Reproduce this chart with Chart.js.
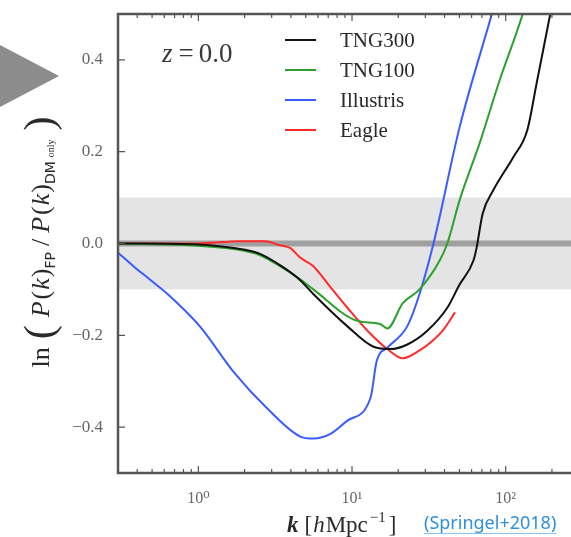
<!DOCTYPE html>
<html>
<head>
<meta charset="utf-8">
<script src="https://cdn.jsdelivr.net/npm/chart.js@4.4.1/dist/chart.umd.min.js"></script>
<style>
html, body { margin: 0; padding: 0; background: #fff; overflow: hidden; width: 571px; height: 537px; }
canvas { position: absolute; left: 0; top: 0; }
</style>
</head>
<body>
<canvas id="myChart" width="600" height="537"></canvas>
<script>
// data (k in h/Mpc, value = ln(P_FP / P_DM))
var kTng300 = [0.30, 1.0, 1.7, 2.5, 3.5, 4.6, 5.6, 9.3, 13.8, 17.8, 22.9, 30.9, 41.7, 50, 61.7, 64.6, 70.8, 83, 112, 138, 159, 195, 230];
var vTng300 = [0.0, -0.002, -0.01, -0.022, -0.05, -0.08, -0.11, -0.18, -0.225, -0.23, -0.22, -0.19, -0.14, -0.09, -0.037, -0.01, 0.065, 0.116, 0.188, 0.246, 0.349, 0.5, 0.62];

var kTng100 = [0.30, 1.0, 1.7, 2.5, 3.5, 4.6, 5.6, 10.7, 15.1, 17.0, 21.4, 27.5, 37.2, 41.7, 50.1, 67.6, 91.2, 129, 150];
var vTng100 = [0.0, -0.005, -0.012, -0.025, -0.052, -0.078, -0.10, -0.168, -0.175, -0.185, -0.13, -0.10, -0.037, 0.0, 0.094, 0.218, 0.355, 0.5, 0.58];

var kIllustris = [0.30, 0.38, 0.49, 0.63, 1.02, 1.70, 2.82, 4.57, 5.62, 7.24, 9.33, 13.2, 14.5, 17.0, 22.9, 27.5, 33.9, 50.1, 81.3, 95];
var vIllustris = [-0.02, -0.05, -0.08, -0.11, -0.18, -0.28, -0.36, -0.42, -0.425, -0.415, -0.386, -0.336, -0.255, -0.227, -0.18, -0.11, 0.0, 0.253, 0.5, 0.58];

var kEagle = [0.30, 1.0, 1.86, 2.72, 3.39, 3.98, 4.57, 5.62, 7.24, 9.33, 12.6, 17.0, 21.4, 27.5, 33.9, 38.9, 46.8];
var vEagle = [0.0, 0.0, 0.005, 0.005, -0.004, -0.01, -0.03, -0.05, -0.095, -0.14, -0.19, -0.23, -0.25, -0.233, -0.21, -0.19, -0.15];

var seriesLabels = ["TNG300", "TNG100", "Illustris", "Eagle"];
var seriesColors = ["#111111", "#2ca02c", "#3a5cff", "#ff2a2a"];

var xTicks = [1, 10, 100];
var xTickLabels = ["10\u2070", "10\u00b9", "10\u00b2"];
var yTicks = [-0.4, -0.2, 0.0, 0.2, 0.4];
var bandLow = -0.1;
var bandHigh = 0.1;

function points(ks, vs) {
    var out = [];
    for (var i = 0; i < ks.length; i++) {
        out.push({ x: ks[i], y: vs[i] });
    }
    return out;
}

var serif = "'Liberation Serif', 'DejaVu Serif', serif";
var axisGray = "#555555";

// draws a row of text pieces, each with its own font and baseline shift
function drawRuns(ctx, runs, x, y) {
    runs.forEach(function (r) {
        ctx.font = r.font;
        ctx.fillText(r.text, x, y + (r.dy || 0));
        x += ctx.measureText(r.text).width + (r.gap || 0);
    });
    return x;
}

function runsWidth(ctx, runs) {
    var w = 0;
    runs.forEach(function (r) {
        ctx.font = r.font;
        w += ctx.measureText(r.text).width + (r.gap || 0);
    });
    return w;
}

var decorPlugin = {
    id: "decor",
    beforeDraw: function (chart) {
        var ctx = chart.ctx;
        ctx.save();
        ctx.fillStyle = "#fff";
        ctx.fillRect(0, 0, chart.width, chart.height);
        // slide arrow at the left
        ctx.fillStyle = "#8c8c8c";
        ctx.beginPath();
        ctx.moveTo(0, 45);
        ctx.lineTo(59, 76);
        ctx.lineTo(0, 107);
        ctx.closePath();
        ctx.fill();
        ctx.restore();
    },
    beforeDatasetsDraw: function (chart) {
        var ctx = chart.ctx;
        var a = chart.chartArea;
        var ys = chart.scales.y;
        ctx.save();
        ctx.beginPath();
        ctx.rect(a.left, a.top, a.right - a.left, a.bottom - a.top);
        ctx.clip();
        var top = ys.getPixelForValue(bandHigh);
        var bot = ys.getPixelForValue(bandLow);
        ctx.fillStyle = "#e4e4e4";
        ctx.fillRect(a.left, top, a.right - a.left, bot - top);
        ctx.strokeStyle = "#a0a0a0";
        ctx.lineWidth = 6;
        ctx.beginPath();
        ctx.moveTo(a.left, ys.getPixelForValue(0));
        ctx.lineTo(a.right, ys.getPixelForValue(0));
        ctx.stroke();
        ctx.restore();
    },
    afterDatasetsDraw: function (chart) {
        var ctx = chart.ctx;
        var a = chart.chartArea;
        var xs = chart.scales.x;
        var ys = chart.scales.y;
        ctx.save();

        // inward ticks
        ctx.strokeStyle = axisGray;
        ctx.lineWidth = 1.2;
        ctx.beginPath();
        for (var d = -1; d <= 2; d++) {
            for (var m = 1; m <= 9; m++) {
                var v = m * Math.pow(10, d);
                if (v < xs.min || v > xs.max) continue;
                var px = xs.getPixelForValue(v);
                var len = m === 1 ? 7 : 4;
                ctx.moveTo(px, a.bottom);
                ctx.lineTo(px, a.bottom - len);
                ctx.moveTo(px, a.top);
                ctx.lineTo(px, a.top + len);
            }
        }
        yTicks.forEach(function (t) {
            var py = ys.getPixelForValue(t);
            ctx.moveTo(a.left, py);
            ctx.lineTo(a.left + 7, py);
            ctx.moveTo(a.right, py);
            ctx.lineTo(a.right - 7, py);
        });
        ctx.stroke();

        // frame
        ctx.strokeStyle = axisGray;
        ctx.lineWidth = 2.5;
        ctx.strokeRect(a.left, a.top, a.right - a.left, a.bottom - a.top);

        // legend
        chart.data.datasets.forEach(function (ds, i) {
            var y = 40 + i * 30;
            ctx.strokeStyle = ds.borderColor;
            ctx.lineWidth = 2;
            ctx.beginPath();
            ctx.moveTo(285, y);
            ctx.lineTo(316, y);
            ctx.stroke();
            ctx.fillStyle = "#2a2a2a";
            ctx.font = "21px " + serif;
            ctx.textBaseline = "middle";
            ctx.fillText(ds.label, 340, y + 1);
        });

        // redshift label
        ctx.fillStyle = "#3a3a3a";
        ctx.textBaseline = "alphabetic";
        drawRuns(ctx, [
            { text: "z", font: "italic 27px " + serif, gap: 6 },
            { text: "=", font: "27px " + serif, gap: 5 },
            { text: "0.0", font: "27px " + serif }
        ], 162, 62);

        // x axis title
        ctx.fillStyle = "#2a2a2a";
        var xRuns = [
            { text: "k", font: "italic bold 23px " + serif, gap: 6 },
            { text: "[", font: "23px " + serif, gap: 1 },
            { text: "h", font: "italic 23px " + serif, gap: 1 },
            { text: "Mpc", font: "23px " + serif, gap: 2 },
            { text: "\u22121", font: "15px " + serif, dy: -10, gap: 3 },
            { text: "]", font: "23px " + serif }
        ];
        drawRuns(ctx, xRuns, 287, 532);

        // source note
        ctx.fillStyle = "#2f8fd8";
        ctx.font = "18px 'Noto Sans', 'Open Sans', sans-serif";
        ctx.fillText("(Springel+2018)", 424, 529);
        var sw = ctx.measureText("(Springel+2018)").width;
        ctx.strokeStyle = "#8cc3ee";
        ctx.lineWidth = 1;
        ctx.beginPath();
        ctx.moveTo(424, 533.5);
        ctx.lineTo(424 + sw, 533.5);
        ctx.stroke();

        // y axis title, rotated
        var yRuns = [
            { text: "ln", font: "26px " + serif, gap: 8 },
            { text: "(", font: "42px " + serif, dy: 4, gap: 8 },
            { text: "P", font: "italic 26px " + serif, gap: 2 },
            { text: "(", font: "26px " + serif, gap: 1 },
            { text: "k", font: "italic 26px " + serif, gap: 1 },
            { text: ")", font: "26px " + serif },
            { text: "FP", font: "14px 'DejaVu Sans', sans-serif", dy: 6, gap: 6 },
            { text: "/", font: "26px " + serif, gap: 6 },
            { text: "P", font: "italic 26px " + serif, gap: 2 },
            { text: "(", font: "26px " + serif, gap: 1 },
            { text: "k", font: "italic 26px " + serif, gap: 1 },
            { text: ")", font: "26px " + serif },
            { text: "DM", font: "14px 'DejaVu Sans', sans-serif", dy: 6, gap: 4 },
            { text: "only", font: "10px " + serif, dy: 5, gap: 9 },
            { text: ")", font: "42px " + serif, dy: 4 }
        ];
        ctx.fillStyle = "#2a2a2a";
        ctx.translate(49, 242);
        ctx.rotate(-Math.PI / 2);
        var w = runsWidth(ctx, yRuns);
        drawRuns(ctx, yRuns, -w / 2, 0);

        ctx.restore();
    }
};

var canvas = document.getElementById("myChart");
var chart = new Chart(canvas.getContext("2d"), {
    type: "line",
    data: {
        datasets: [
            { label: seriesLabels[0], data: points(kTng300, vTng300), borderColor: seriesColors[0] },
            { label: seriesLabels[1], data: points(kTng100, vTng100), borderColor: seriesColors[1] },
            { label: seriesLabels[2], data: points(kIllustris, vIllustris), borderColor: seriesColors[2] },
            { label: seriesLabels[3], data: points(kEagle, vEagle), borderColor: seriesColors[3] }
        ]
    },
    options: {
        responsive: false,
        animation: false,
        devicePixelRatio: 1,
        layout: { padding: { left: 0, top: 14, right: 21, bottom: 0 } },
        elements: {
            line: { borderWidth: 2, cubicInterpolationMode: "monotone", fill: false },
            point: { radius: 0 }
        },
        plugins: {
            legend: { display: false },
            tooltip: { enabled: false }
        },
        scales: {
            x: {
                type: "logarithmic",
                min: 0.3,
                max: 300,
                grid: { display: false },
                border: { display: false },
                afterBuildTicks: function (s) {
                    s.ticks = xTicks.map(function (v) { return { value: v }; });
                },
                afterFit: function (s) {
                    s.height = 64;
                    s.paddingLeft = 0;
                    s.paddingRight = 0;
                },
                ticks: {
                    autoSkip: false,
                    maxRotation: 0,
                    padding: 8,
                    color: "#666",
                    font: { family: serif, size: 16 },
                    callback: function (v) {
                        var i = xTicks.indexOf(v);
                        return i >= 0 ? xTickLabels[i] : "";
                    }
                }
            },
            y: {
                min: -0.5,
                max: 0.5,
                grid: { display: false },
                border: { display: false },
                afterBuildTicks: function (s) {
                    s.ticks = yTicks.map(function (v) { return { value: v }; });
                },
                afterFit: function (s) {
                    s.width = 118;
                    s.paddingTop = 0;
                    s.paddingBottom = 0;
                },
                ticks: {
                    padding: 7,
                    color: "#666",
                    font: { family: serif, size: 17 },
                    callback: function (v) {
                        var t = Math.abs(v).toFixed(1);
                        return v < -1e-9 ? "\u2212" + t : t;
                    }
                }
            }
        }
    },
    plugins: [decorPlugin]
});
</script>
</body>
</html>
